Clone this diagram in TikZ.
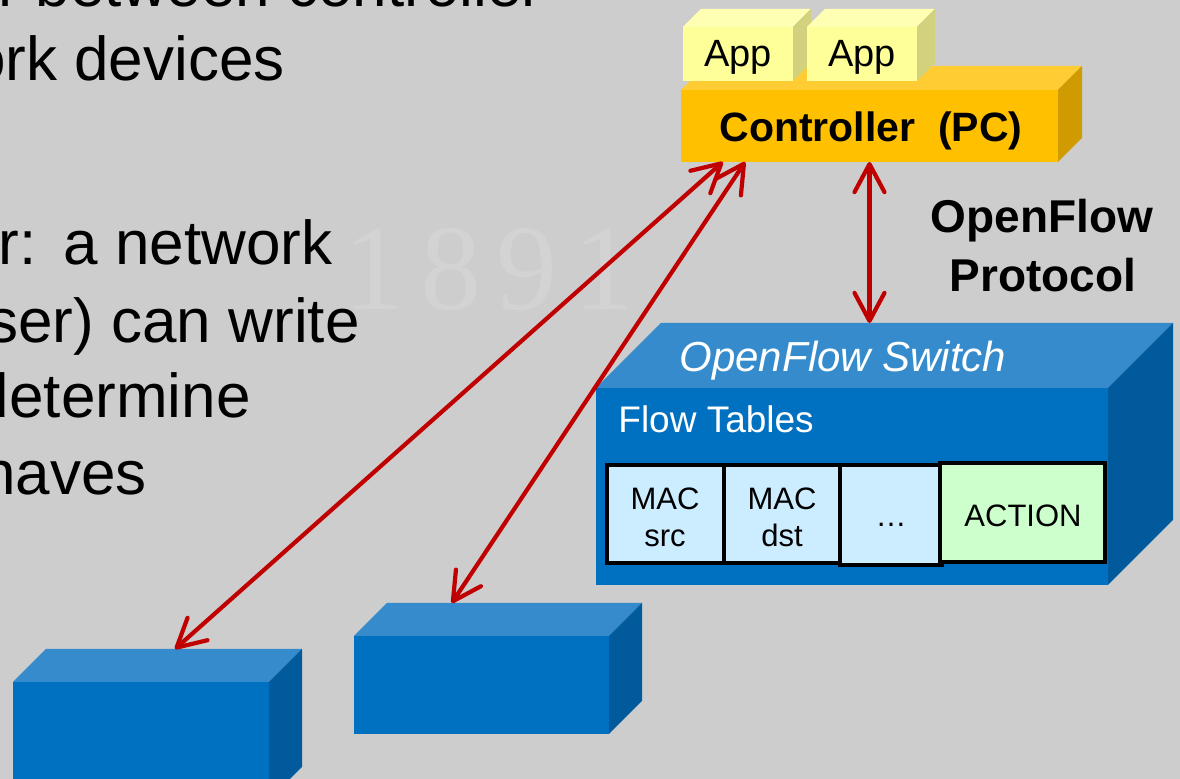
\documentclass[tikz,border=0pt]{standalone}
\usepackage{fontspec}
\setmainfont{Liberation Sans}
\newfontfamily\wmfont{Liberation Serif}
\usetikzlibrary{arrows.meta,fit,calc}
\frenchspacing
\definecolor{bg}{HTML}{CDCDCD}
\definecolor{wm}{HTML}{D3D3D3}
\definecolor{arrowred}{HTML}{C00000}
\definecolor{ctrlfront}{HTML}{FFC000}
\definecolor{ctrltop}{HTML}{FFCC33}
\definecolor{ctrlside}{HTML}{CF9B00}
\definecolor{appfront}{HTML}{FFFF99}
\definecolor{apptop}{HTML}{FFFFB3}
\definecolor{appside}{HTML}{D2D27E}
\definecolor{swfront}{HTML}{0070C0}
\definecolor{swtop}{HTML}{358BCB}
\definecolor{swside}{HTML}{005A9B}
\definecolor{cellblue}{HTML}{CCECFF}
\definecolor{cellgreen}{HTML}{CCFFCC}

% 3D box: name, x1, y1, x2, y2, depth, front, top, side
\newcommand{\solidbox}[9]{%
  \fill[#8] (#2,#3) -- (#2+#6,#3-#6) -- (#4+#6,#3-#6) -- (#4,#3) -- cycle;
  \fill[#9] (#4,#3) -- (#4+#6,#3-#6) -- (#4+#6,#5-#6) -- (#4,#5) -- cycle;
  \node[fit={(#2,#3)(#4,#5)}, inner sep=0pt, outer sep=0pt, fill=#7] (#1) {};
  \coordinate (#1-bl) at (#2+#6,#3-#6);
  \coordinate (#1-br) at (#4+#6,#3-#6);
}

\tikzset{
  lefttext/.style={anchor=base east, inner sep=0pt, text=black, font=\fontsize{31}{37}\selectfont},
  link/.style={draw=arrowred, line width=2.1pt,
    {Straight Barb[length=14pt,width=15pt,round]}-{Straight Barb[length=14pt,width=15pt,round]}},
  cell/.style={draw=black, line width=2pt, inner sep=0pt},
  celltext/.style={anchor=base, inner sep=0pt, align=center, font=\fontsize{15.5}{18.5}\selectfont},
}

\begin{document}
\begin{tikzpicture}[x=0.5pt, y=-0.5pt]
\useasboundingbox (0,0) rectangle (1180,779);
\clip (0,0) rectangle (1180,779);
\fill[bg] (0,0) rectangle (1180,779);

% watermark
\node[anchor=base west, inner sep=0pt, text=wm, font=\wmfont\fontsize{61}{61}\selectfont\addfontfeature{LetterSpace=13}] (wmark) at (343,310) {1891};

% left text (cut off at the left edge)
\node[lefttext] (t1) at (543,7) {r between controller};
\node[lefttext] (t2) at (285,81) {ork devices};
\node[lefttext] (t3) at (333,265) {r:\hspace{0.44em}a network};
\node[lefttext] (t4) at (360,343) {ser) can write};
\node[lefttext] (t5) at (251,418) {determine};
\node[lefttext] (t6) at (147,495) {haves};

% controller and apps
\solidbox{ctrl}{681}{90}{1058}{162}{24}{ctrlfront}{ctrltop}{ctrlside}
\solidbox{app1}{683}{27}{793}{81}{18}{appfront}{apptop}{appside}
\solidbox{app2}{807}{27}{917}{81}{18}{appfront}{apptop}{appside}
\node[anchor=base, inner sep=0pt, font=\fontsize{19}{22}\selectfont] (app1t) at (738,67) {App};
\node[anchor=base, inner sep=0pt, font=\fontsize{19}{22}\selectfont] (app2t) at (862,67) {App};
\node[anchor=base, inner sep=0pt, font=\bfseries\fontsize{20.5}{24}\selectfont] (ctrlt) at (871,142) {Controller\ \ (PC)};

% OpenFlow protocol label
\node[anchor=base, inner sep=0pt, font=\bfseries\fontsize{23}{28}\selectfont] (opf1) at (1042,233) {OpenFlow};
\node[anchor=base, inner sep=0pt, font=\bfseries\fontsize{23}{28}\selectfont] (opf2) at (1043,292) {Protocol};

% switch
\solidbox{sw}{596}{388}{1108}{585}{65}{swfront}{swtop}{swside}
\node[anchor=base, inner sep=0pt, text=white, font=\itshape\fontsize{21}{25}\selectfont] (swt) at (843,372) {OpenFlow Switch};
\node[anchor=base west, inner sep=0pt, text=white, font=\fontsize{18.5}{22}\selectfont] (ftt) at (618,433) {Flow Tables};

% flow table cells
\node[cell, fill=cellblue, fit={(607,465)(724,563)}] (src) {};
\node[cell, fill=cellblue, fit={(724,465)(840,563)}] (dst) {};
\node[cell, fill=cellblue, fit={(840,465)(942,565)}] (dots) {};
\node[cell, fill=cellgreen, fit={(940,463)(1105,562)}] (act) {};
\node[celltext] (srct) at (665,547) {MAC\\src};
\node[celltext] (dstt) at (782,547) {MAC\\dst};
\node[celltext] (dotst) at (891,527) {\dots};
\node[celltext] (actt) at (1023,527) {ACTION};

% other switches
\solidbox{box1}{13}{682}{269}{800}{33}{swfront}{swtop}{swside}
\solidbox{box2}{354}{636}{609}{734}{33}{swfront}{swtop}{swside}

% connectors
\draw[link] ($(ctrl.south west)!0.111!(ctrl.south east)$) -- ($(box1-bl)!0.504!(box1-br)$);
\draw[link] ($(ctrl.south west)!0.170!(ctrl.south east)$) -- ($(box2-bl)!0.254!(box2-br)$);
\draw[link] (ctrl.south) -- (ctrl.south |- sw-bl);
\end{tikzpicture}
\end{document}
